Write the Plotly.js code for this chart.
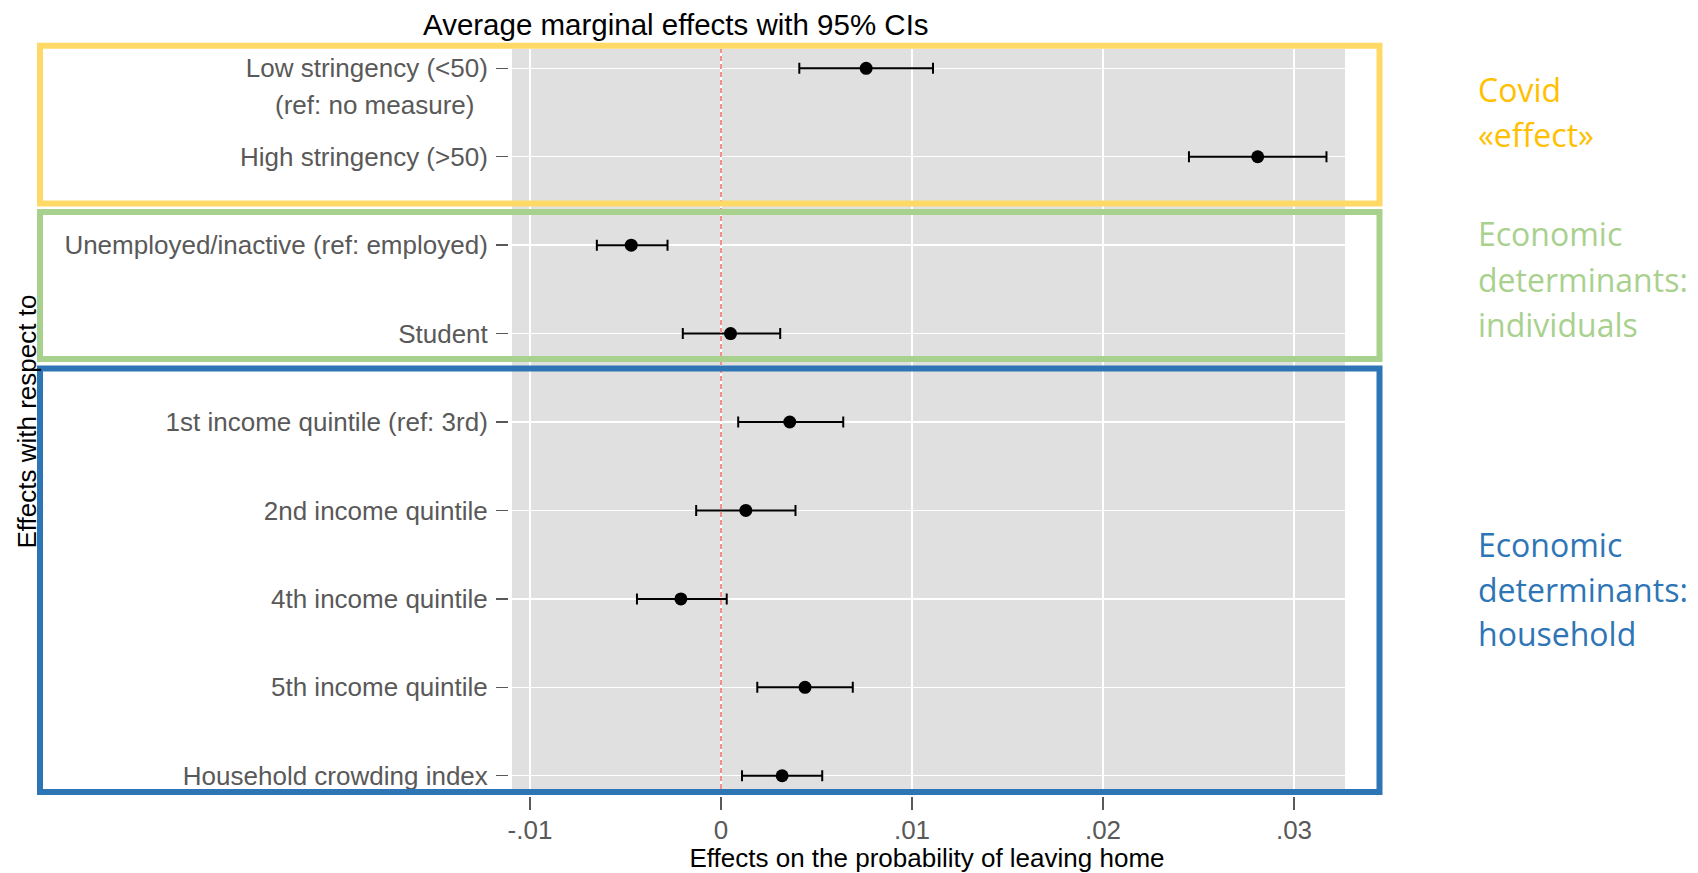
<!DOCTYPE html>
<html>
<head>
<meta charset="utf-8">
<script src="https://cdn.plot.ly/plotly-3.0.1.min.js"></script>
<style>
html,body{margin:0;padding:0;background:#fff;}
#chart{width:1698px;height:873px;}
</style>
</head>
<body>
<div id="chart"></div>
<script>
// ---- Data ----
const categories = [
  "Low stringency (<50)",
  "High stringency (>50)",
  "Unemployed/inactive (ref: employed)",
  "Student",
  "1st income quintile (ref: 3rd)",
  "2nd income quintile",
  "4th income quintile",
  "5th income quintile",
  "Household crowding index"
];
const estimate = [0.0076, 0.0281, -0.0047, 0.0005, 0.0036, 0.0013, -0.0021, 0.0044, 0.0032];
const ciLow    = [0.0041, 0.0245, -0.0065, -0.0020, 0.0009, -0.0013, -0.0044, 0.0019, 0.0011];
const ciHigh   = [0.0111, 0.0317, -0.0028, 0.0031, 0.0064, 0.0039, 0.0003, 0.0069, 0.0053];
const xTickVals = [-0.01, 0, 0.01, 0.02, 0.03];
const xTickText = ["-.01", "0", ".01", ".02", ".03"];
const groupLines = [
  ["Covid", "«effect»"],
  ["Economic", "determinants:", "individuals"],
  ["Economic", "determinants:", "household"]
];
const groupColors = ["#FFC000", "#A9D18E", "#2E75B6"];
const boxColors = ["#FFD966", "#A9D18E", "#2E75B6"];

// ---- Layout geometry (pixels) ----
const W = 1698, H = 873;
const L = 509, R = 1345, T = 49, B = 796;
const pw = R - L, ph = B - T;
const px = x => (x - L) / pw;
const py = y => (B - y) / ph;

const idx = categories.map((_, i) => i);

const trace = {
  type: "scatter",
  mode: "markers",
  x: estimate,
  y: idx,
  marker: {color: "#000", size: 13},
  error_x: {
    type: "data",
    symmetric: false,
    array: estimate.map((v, i) => ciHigh[i] - v),
    arrayminus: estimate.map((v, i) => v - ciLow[i]),
    color: "#000",
    thickness: 2,
    width: 5.5
  },
  hoverinfo: "x+y",
  showlegend: false
};

const boxYs = [[45.7, 203.5], [212, 359], [368.5, 792]];
const shapes = [
  // grey panel
  {type: "rect", xref: "paper", yref: "paper", x0: px(512), x1: 1, y0: py(789), y1: 1,
   fillcolor: "#E0E0E0", line: {width: 0}, layer: "below"},
  // reference line at zero
  {type: "line", xref: "x", yref: "paper", x0: 0, x1: 0, y0: py(789), y1: 1,
   line: {color: "#F4908A", width: 2, dash: "5px,3px"}, layer: "above"}
];
boxYs.forEach((b, i) => {
  shapes.push({type: "rect", xref: "paper", yref: "paper",
    x0: px(40), x1: px(1379.5), y0: py(b[1]), y1: py(b[0]),
    line: {color: boxColors[i], width: 6}, fillcolor: "rgba(0,0,0,0)", layer: "above"});
});

const annotations = [
  {text: "Average marginal effects with 95% CIs", xref: "paper", yref: "paper",
   x: px(676), y: py(24), xanchor: "center", yanchor: "middle", showarrow: false,
   font: {family: "Arial, Liberation Sans, sans-serif", size: 29.5, color: "#000"}},
  {text: "Effects with respect to", xref: "paper", yref: "paper",
   x: px(26), y: py(421.5), xanchor: "center", yanchor: "middle", showarrow: false,
   textangle: -90,
   font: {family: "Arial, Liberation Sans, sans-serif", size: 26, color: "#000"}},
  {text: "(ref: no measure)", xref: "paper", yref: "y",
   x: px(374), y: 0, yshift: -37, xanchor: "center", yanchor: "middle", showarrow: false,
   font: {family: "Arial, Liberation Sans, sans-serif", size: 26, color: "#595959"}}
];
const groupTextY = [[89, 134], [234, 279, 324], [544, 589, 633]];
groupLines.forEach((lines, g) => {
  lines.forEach((t, k) => {
    annotations.push({text: t, xref: "paper", yref: "paper",
      x: px(1476), y: py(groupTextY[g][k]), xanchor: "left", yanchor: "middle",
      showarrow: false,
      font: {family: "Open Sans, Noto Sans, sans-serif", size: 32, color: groupColors[g]}});
  });
});

const layout = {
  width: W, height: H,
  margin: {l: L, r: W - R, t: T, b: H - B, pad: 0},
  paper_bgcolor: "#fff",
  plot_bgcolor: "rgba(0,0,0,0)",
  showlegend: false,
  xaxis: {
    range: [(L - 721) / 19100, (R - 721) / 19100],
    tickvals: xTickVals, ticktext: xTickText,
    ticks: "outside", ticklen: 13, tickwidth: 1.5, tickcolor: "#595959",
    ticklabelstandoff: -2,
    showgrid: true, gridcolor: "#fff", gridwidth: 1.5,
    zeroline: false, showline: false,
    tickfont: {family: "Arial, Liberation Sans, sans-serif", size: 26, color: "#595959"},
    title: {text: "Effects on the probability of leaving home", standoff: 5,
            font: {family: "Arial, Liberation Sans, sans-serif", size: 26, color: "#000"}}
  },
  yaxis: {
    range: [(B - 68.3) / 88.43, (T - 68.3) / 88.43],
    tickvals: idx, ticktext: categories,
    ticks: "outside", ticklen: 12, tickwidth: 1.5, tickcolor: "#595959",
    ticklabelstandoff: 3,
    showgrid: true, gridcolor: "#fff", gridwidth: 1.5,
    zeroline: false, showline: false,
    tickfont: {family: "Arial, Liberation Sans, sans-serif", size: 26, color: "#595959"}
  },
  shapes: shapes,
  annotations: annotations
};

Plotly.newPlot("chart", [trace], layout, {displayModeBar: false, staticPlot: true});
</script>
</body>
</html>
